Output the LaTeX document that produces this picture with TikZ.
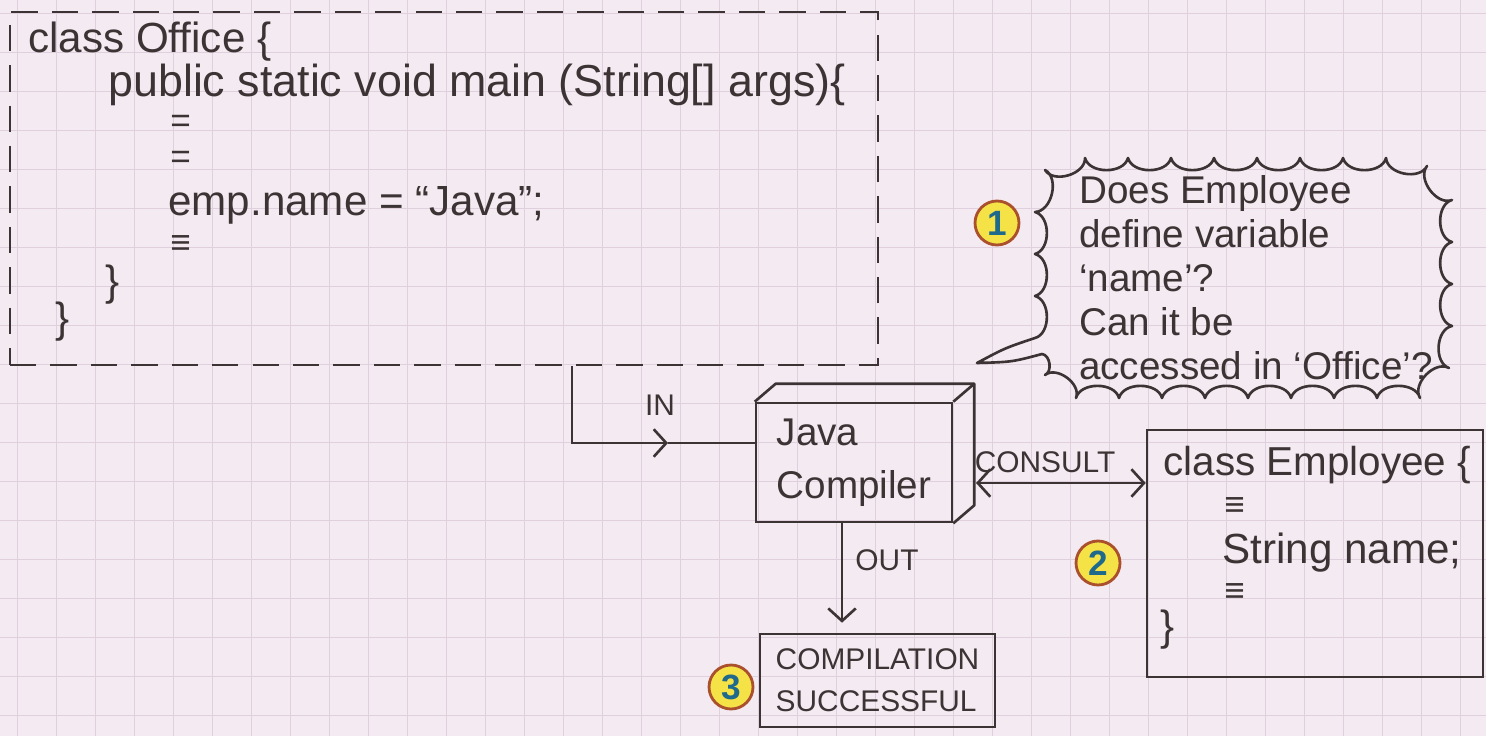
\documentclass[tikz,border=0pt]{standalone}
\usepackage{fontspec}
\setmainfont{Liberation Sans}
\usetikzlibrary{arrows.meta}
\definecolor{paper}{RGB}{244,234,242}
\definecolor{gridc}{RGB}{224,208,222}
\definecolor{inkc}{RGB}{60,52,52}
\definecolor{dotfill}{RGB}{245,226,70}
\definecolor{dotrim}{RGB}{170,80,45}
\definecolor{dotnum}{RGB}{30,105,140}
\tikzset{
  box/.style={draw=inkc, line width=1.5pt, inner sep=0pt},
  code/.style={text=inkc, inner sep=0pt, anchor=west, font=\fontsize{24}{28}\selectfont},
  eqmark/.style={code, font=\fontsize{20}{21}\selectfont, text height=13pt, text depth=0pt},
  caps/.style={text=inkc, inner sep=0pt, font=\fontsize{17}{20}\selectfont},
  badge/.style={circle, draw=dotrim, line width=1.6pt, fill=dotfill, text=dotnum,
                minimum size=8.8mm, inner sep=0pt, font=\bfseries\fontsize{20}{20}\selectfont},
  ln/.style={draw=inkc, line width=1.5pt},
  ed/.style={ln, -{Straight Barb[length=2.5mm, width=5.5mm]}},
  edd/.style={ln, {Straight Barb[length=2.5mm, width=5.5mm]}-{Straight Barb[length=2.5mm, width=5.5mm]}},
  gridln/.style={draw=gridc, line width=0.45pt}
}
\begin{document}
\begin{tikzpicture}[x=0.02cm, y=-0.02cm]
\useasboundingbox (0,0) rectangle (1486,736);
\fill[paper] (0,0) rectangle (1486,736);
\foreach \gx in {17,56,...,1486} \draw[gridln] (\gx,0) -- (\gx,736);
\foreach \gy in {13,52,...,736} \draw[gridln] (0,\gy) -- (1486,\gy);
% class Office
\node[box, dash pattern=on 15pt off 8pt, minimum width=17.36cm, minimum height=7.06cm] (office) at (444,188.5) {};
\node[code] (o1) at (28,42) {class Office \{};
\node[code, font=\fontsize{25.5}{28}\selectfont] (o2) at (108,85) {public static void main (String[] args)\{};
\node[eqmark] (o3) at (170,121) {=};
\node[eqmark] (o4) at (170,157) {=};
\node[code] (o5) at (168,205) {emp.name = “Java”;};
\node[eqmark] (o6) at (170,243) {≡};
\node[code] (o7) at (105,285) {\}};
\node[code] (o8) at (55,322) {\}};
% question cloud
\node[align=left, text=inkc, inner sep=0pt, font=\fontsize{22}{25}\selectfont] (cloud) at (1256,278)
      {Does Employee\\define variable\\‘name’?\\Can it be\\accessed in ‘Office’?};
\coordinate (tip) at (977,363);
\draw[ln, line join=round] (1035,338) \foreach \px/\py in {1035/296,1035/254,1035/212,1045/170,
      1085/158,1128/158,1171/158,1214/158,1257/158,1300/158,1343/158,1386/158,1427/166,
      1452/200,1452/242,1452/284,1452/326,1449/368,1420/398,1377/398,1334/398,1291/398,
      1248/398,1205/398,1162/398,1119/398,1076/398,1045/375,1042/354} { to[bend right=75] (\px,\py) }
      .. controls (1012,362) .. (tip) .. controls (1005,348) .. (1035,338);
% compiler
\node[box, minimum width=3.92cm, minimum height=2.38cm, align=left, text=inkc,
      font=\fontsize{22}{30}\selectfont] (compiler) at (854,462.5) {Java\\Compiler};
\draw[ln, line join=round] (compiler.north west) -- ++(21,-18) -| ([shift={(21,-18)}]compiler.south east) -- (compiler.south east);
\draw[ln] (compiler.north east) -- ++(21,-18);
\coordinate (bend) at (572,443);
\coordinate (inarr) at (668,443);
\draw[ed] (office.south -| bend) -- (bend) -- (inarr);
\draw[ln] (inarr) -- (compiler.west |- bend);
\node[caps] (inlbl) at (660,405) {IN};
% class Employee
\node[box, minimum width=6.72cm, minimum height=4.94cm] (employee) at (1315,553.5) {};
\node[code, font=\fontsize{23}{27}\selectfont] (e1) at (1163,465) {class Employee \{};
\node[eqmark] (e2) at (1224,505) {≡};
\node[code] (e3) at (1222,553) {String name;};
\node[eqmark] (e4) at (1224,591) {≡};
\node[code] (e5) at (1160,630) {\}};
\coordinate (cons) at (976,483);
\draw[edd] (cons) -- (employee.west |- cons);
\node[caps] (conlbl) at (1045,462) {CONSULT};
% result
\node[box, minimum width=4.7cm, minimum height=1.86cm, align=left, text=inkc,
      font=\fontsize{17}{24}\selectfont] (result) at (877.5,680.5) {COMPILATION\\SUCCESSFUL};
\coordinate (outx) at (842,0);
\draw[ed, shorten >=0.2cm] (compiler.south -| outx) -- (result.north -| outx);
\node[caps] (outlbl) at (887,560) {OUT};
% steps
\node[badge] (b1) at (997,223) {1};
\node[badge] (b2) at (1098,563) {2};
\node[badge] (b3) at (731,687) {3};
\end{tikzpicture}
\end{document}
